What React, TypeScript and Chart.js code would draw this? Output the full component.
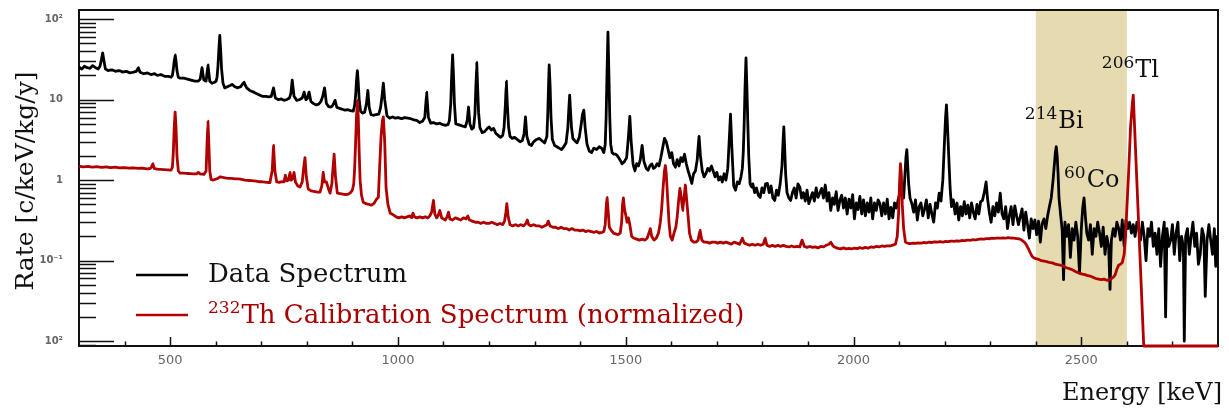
import React, { useEffect, useRef } from 'react';
import { Chart, registerables } from 'chart.js';

Chart.register(...registerables);

// ---- axis ranges & tick labels ----
const X_MIN = 300;
const X_MAX = 2800;
const Y_MIN = 0.0087;
const Y_MAX = 130;
const xTickValues = [500, 1000, 1500, 2000, 2500];
const xTickLabels = ['500', '1000', '1500', '2000', '2500'];
const yTickValues = [100, 10, 1, 0.1, 0.01];
const yTickLabels = ['10²', '10', '1', '10⁻¹', '10²'];
const bandRange = [2400, 2600];

// ---- Data spectrum [keV, c/keV/kg/y] ----
const dataLow = [
  [300,25.5],[306,24],[312,26],[318,25],[324,24.5],[330,26.5],[336,25],[342,24],[346,26],[349,31],[352,38],[355,30],[358,24],
  [364,23],[372,23.5],[380,22.5],[388,23],[396,22],[404,22.5],[412,21.5],[420,22],[426,22.5],[430,25],[434,22],[442,21],
  [450,21.5],[458,20.5],[466,21],[472,20],[480,20.5],[488,19.5],[496,19.5],[502,19],[505,20],[507,24],[509,30],[511,36],
  [513,30],[515,23],[518,19],[522,18.5],[530,18.5],[538,18],[546,17.5],[554,17],[562,17],[566,18],[570,25],[574,17.5],
  [579,17],[583,27],[587,17],[592,16],[598,16.5],[601,17],[603,19],[605,26],[607,42],[609,63],[611,40],[613,24],[616,16],
  [620,14],[626,14.5],[632,15],[636,15.5],[642,14.5],[648,14],[655,14.5],[662,16.5],[668,14],[675,13],[682,12.5],[688,12],
  [695,11.5],
];
const dataMid1 = [
  [702,11],[710,11],[716,10.8],[722,11],[727,14],[731,10.5],[737,10],[744,10.2],[750,9.8],[756,10],[762,10.5],[765,12],
  [768,17.5],[772,11],[778,9.8],[784,10],[790,10.5],[794,12.4],[798,10],[801,10.3],[805,12.4],[809,9.5],[814,9],[820,8.6],
  [826,8.8],[831,9.5],[835,11],[839,14],[843,9],[848,8.2],[853,8.1],[857,8.5],[862,9.8],[866,8],[872,7.8],[878,7.6],
  [884,7.4],[890,7.5],[896,7.3],[902,7.2],[905,8.5],[907,11],[909,17],[911,23],[913,16],[915,10],[918,7.2],[922,6.8],
  [927,7],[931,9],[934,13],[937,8],[941,6.5],[946,6.4],[952,6.5],[958,6.6],[962,8],[965,11],[968,16],[971,10],[976,6.3],
  [982,5.9],[988,6.1],[994,5.9],[1000,6],[1008,5.8],[1015,6],[1022,5.9],[1028,5.8],[1035,5.6],[1042,5.5],[1048,5.2],
  [1054,5.4],[1059,6],[1063,12.4],[1067,6],[1072,5.1],[1078,5.2],[1085,5],[1092,5.1],[1098,4.9],[1104,4.8],[1110,4.9],
  [1113,5.5],[1116,9],[1118,20],[1120,36],[1122,20],[1124,9],[1127,5],[1132,4.9],[1137,4.8],[1142,4.7],[1148,4.6],
  [1152,5.5],[1155,8.1],[1158,5],[1162,4.3],[1166,4.5],[1169,6.5],[1171,14],[1173,29],[1175,14],[1177,7],[1180,4.5],
  [1185,3.9],[1190,4],[1195,4.3],
];
const dataMid2 = [
  [1200,4.6],[1205,4.2],[1210,4.4],[1215,3.8],[1220,3.6],[1225,3.4],[1230,3.6],[1233,4.5],[1236,9],[1238,17],[1240,9],
  [1243,4.5],[1246,3.5],[1251,3.3],[1256,3.4],[1262,3.2],[1268,3.0],[1273,3.1],[1277,3.8],[1280,6.1],[1283,3.5],[1288,2.8],
  [1293,2.7],[1298,3.0],[1304,3.2],[1310,3.3],[1316,3.1],[1322,2.9],[1327,3.5],[1329,7],[1331,18],[1332,27],[1334,15],
  [1336,6],[1339,3.2],[1344,2.7],[1349,2.6],[1354,2.5],[1359,2.4],[1364,2.6],[1369,2.9],[1373,4.5],[1375,7.5],[1377,11.4],
  [1379,7],[1381,4.5],[1384,3.3],[1388,3.1],[1393,2.9],[1398,3.4],[1402,4.8],[1405,6.5],[1408,7.4],[1411,4.5],[1415,2.8],
  [1420,2.3],[1425,2.2],[1430,2.5],[1436,2.4],[1442,2.6],[1447,2.5],[1452,2.2],[1455,2.8],[1457,6],[1459,22],[1461,69],
  [1463,22],[1465,6],[1467,2.8],[1470,2.2],[1474,2.1],[1478,2.1],[1482,2.0],[1487,1.8],[1492,1.6],[1497,1.7],[1502,1.9],
  [1506,3.5],[1509,6.2],[1512,3],[1516,1.6],[1520,1.3],[1524,1.6],[1528,1.5],[1532,1.8],[1536,2.7],[1540,1.7],[1545,1.4],
  [1549,1.33],[1553,1.5],[1557,1.6],[1561,1.4],[1565,1.45],[1569,1.6],[1573,1.5],[1577,1.9],[1581,2.5],[1585,3.3],
  [1589,3.0],[1593,2.4],[1597,1.9],
];
const dataHigh1 = [
  [1601,2.2],[1605,1.6],[1609,1.45],[1613,1.8],[1617,1.5],[1621,1.9],[1625,1.7],[1629,2.1],[1633,1.6],[1637,1.3],
  [1641,1.1],[1645,0.91],[1649,1.2],[1653,1.3],[1657,1.8],[1659,2.6],[1661,3.5],[1664,2],[1668,1.3],[1672,1.1],[1676,1.2],
  [1680,1.4],[1684,1.3],[1688,1.5],[1692,1.3],[1696,1.1],[1700,1.25],[1704,1.0],[1708,1.1],[1712,0.95],[1716,1.2],
  [1720,1.0],[1724,1.4],[1727,3],[1730,6.6],[1733,2.5],[1737,0.85],[1741,0.75],[1745,0.95],[1749,0.9],[1753,1.1],
  [1756,1.4],[1758,2.2],[1760,5],[1762,15],[1764,33],[1766,14],[1768,5],[1770,2],[1773,0.9],[1776,0.82],[1779,0.9],
  [1783,0.7],[1787,0.8],[1791,0.65],[1795,0.61],[1799,0.8],[1803,0.7],[1807,0.9],[1811,0.91],[1815,0.7],[1819,0.85],
  [1823,0.6],[1827,0.56],[1831,0.75],[1835,0.65],[1839,0.9],[1843,1.5],[1845,2.8],[1847,4.6],[1849,2.4],[1851,1.2],
  [1854,0.7],[1858,0.6],[1862,0.56],[1866,0.7],[1870,0.8],[1874,0.6],[1878,0.9],[1882,0.82],[1886,0.6],[1890,0.7],
  [1894,0.55],[1898,0.75],[1902,0.51],[1906,0.6],[1910,0.7],[1914,0.55],[1918,0.8],[1922,0.61],[1926,0.69],[1930,0.79],
  [1934,0.6],[1938,0.87],[1942,0.55],[1946,0.7],[1950,0.42],[1954,0.6],[1958,0.5],[1962,0.72],[1966,0.42],[1970,0.56],
  [1974,0.65],[1978,0.45],[1982,0.6],[1986,0.38],[1990,0.58],[1994,0.45],[1998,0.66],[2002,0.33],[2006,0.52],[2010,0.43],
  [2014,0.63],[2018,0.38],[2022,0.57],[2026,0.36],[2030,0.52],[2034,0.4],[2038,0.6],[2042,0.33],[2046,0.52],[2050,0.42],
  [2054,0.57],[2058,0.51],[2062,0.36],[2066,0.52],[2070,0.38],[2074,0.58],[2078,0.33],[2082,0.46],[2086,0.34],[2090,0.52],
  [2094,0.45],[2098,0.57],
];
const dataHigh2 = [
  [2102,0.71],[2106,0.8],[2110,0.6],[2113,1.2],[2115,1.9],[2117,2.4],[2119,1.5],[2121,0.9],[2124,0.6],[2128,0.51],
  [2132,0.4],[2136,0.57],[2140,0.32],[2144,0.47],[2148,0.52],[2152,0.36],[2156,0.44],[2160,0.57],[2164,0.34],[2168,0.5],
  [2172,0.38],[2176,0.3],[2180,0.52],[2184,0.45],[2188,0.69],[2192,0.55],[2196,1.0],[2199,2.5],[2202,6],[2204,8.6],
  [2206,5],[2209,2],[2212,0.8],[2215,0.47],[2219,0.57],[2223,0.38],[2227,0.52],[2231,0.32],[2235,0.47],[2239,0.36],
  [2243,0.54],[2247,0.38],[2251,0.49],[2255,0.34],[2259,0.52],[2263,0.4],[2267,0.33],[2271,0.5],[2275,0.38],[2279,0.54],
  [2283,0.56],[2287,0.7],[2291,0.95],[2294,0.6],[2298,0.4],[2302,0.3],[2306,0.47],[2310,0.36],[2314,0.52],[2318,0.4],
  [2322,0.69],[2326,0.38],[2330,0.33],[2334,0.47],[2338,0.25],[2342,0.36],[2346,0.47],[2350,0.28],[2354,0.48],[2358,0.36],
  [2362,0.28],[2366,0.35],[2370,0.44],[2374,0.24],[2378,0.4],[2382,0.28],[2386,0.19],[2390,0.33],[2394,0.25],[2398,0.32],
  [2402,0.21],[2406,0.31],[2410,0.17],[2414,0.29],[2418,0.33],[2422,0.25],[2426,0.36],[2430,0.47],[2434,0.6],[2438,1.0],
  [2441,1.6],[2443,2.2],[2445,2.6],[2447,2.0],[2449,1.2],[2451,0.6],
];
const dataTail = [
  [2455,0.35],[2458,0.24],[2461,0.058],[2464,0.3],[2468,0.2],[2472,0.28],[2476,0.11],[2480,0.25],[2484,0.18],[2488,0.3],
  [2492,0.2],[2496,0.07],[2500,0.25],[2503,0.45],[2506,0.6],[2509,0.35],[2512,0.22],[2516,0.18],[2520,0.28],[2524,0.12],
  [2528,0.25],[2532,0.2],[2536,0.3],[2540,0.22],[2544,0.15],[2548,0.26],[2552,0.12],[2556,0.2],[2560,0.15],[2563,0.044],
  [2566,0.18],[2570,0.25],[2574,0.2],[2578,0.3],[2582,0.25],[2586,0.18],[2590,0.32],[2594,0.15],[2598,0.32],[2602,0.25],
  [2606,0.3],[2610,0.22],[2614,0.28],[2618,0.2],[2622,0.3],[2626,0.25],[2630,0.18],[2634,0.3],[2638,0.2],[2642,0.1],
  [2646,0.25],[2650,0.2],[2654,0.3],[2658,0.15],[2662,0.22],[2666,0.12],[2670,0.25],[2674,0.085],[2678,0.2],[2682,0.3],
  [2685,0.02],[2688,0.25],[2692,0.15],[2696,0.18],[2700,0.28],[2704,0.12],[2708,0.22],[2712,0.3],[2716,0.1],[2720,0.2],
  [2724,0.15],[2726,0.01],[2729,0.2],[2733,0.25],[2737,0.12],[2741,0.2],[2745,0.3],[2749,0.15],[2753,0.22],[2757,0.09],
  [2761,0.12],[2765,0.25],[2769,0.2],[2772,0.036],[2776,0.18],[2780,0.28],[2784,0.18],[2788,0.12],[2792,0.25],[2795,0.085],
  [2798,0.2],[2800,0.15],
];

// ---- 232Th calibration spectrum (normalized) ----
const calibLow = [
  [300,1.49],[310,1.46],[320,1.48],[330,1.45],[340,1.47],[350,1.44],[360,1.46],[370,1.43],[380,1.45],[390,1.42],[400,1.43],
  [410,1.41],[420,1.42],[430,1.4],[440,1.41],[450,1.38],[456,1.39],[459,1.45],[462,1.6],[465,1.4],[472,1.37],[480,1.36],
  [488,1.35],[496,1.34],[502,1.33],[505,1.45],[507,2.2],[509,4.5],[511,7.0],[513,4.5],[515,2],[518,1.3],[522,1.22],
  [530,1.22],[540,1.21],[550,1.2],[558,1.2],[562,1.25],[566,1.2],[574,1.18],[579,1.3],[581,2.8],[583,5.4],[585,2.8],
  [587,1.3],[590,1.02],[594,1.0],[598,1.02],[604,1.05],[610,1.1],[616,1.08],[624,1.06],[634,1.05],[644,1.04],[654,1.03],
  [664,1.0],[674,0.99],[684,0.98],[694,0.96],[704,0.95],[712,0.94],[719,0.93],
];
const calibMid1 = [
  [724,1.3],[727,2.7],[730,1.3],[734,0.95],[740,0.94],[746,0.96],[750,0.95],[753,1.15],[756,0.98],[760,1.0],[763,1.25],
  [766,1.0],[769,1.05],[772,1.25],[775,0.95],[780,0.85],[785,0.82],[790,0.95],[793,1.4],[796,1.9],[799,1.1],[803,0.78],
  [807,0.75],[812,0.73],[818,0.72],[824,0.71],[829,0.71],[833,0.85],[836,1.25],[839,0.95],[843,0.95],[847,0.8],[851,0.69],
  [855,0.9],[857,1.3],[860,2.1],[863,1.1],[867,0.69],[873,0.68],[879,0.67],[885,0.66],[891,0.67],[896,0.7],[900,0.75],
  [903,0.9],[905,1.4],[907,2.8],[909,6],[911,9.8],[913,6],[915,2.2],[917,1],[920,0.65],[924,0.53],[930,0.51],[936,0.5],
  [942,0.49],[948,0.52],[953,0.58],[957,0.61],[960,1.5],[963,3.5],[966,5.5],[968,6.1],[971,3],[974,0.8],[978,0.5],
  [983,0.39],[990,0.37],[996,0.35],[1002,0.34],[1008,0.35],[1014,0.34],[1020,0.35],[1026,0.36],[1030,0.34],[1033,0.39],
  [1036,0.35],[1042,0.34],[1048,0.35],[1054,0.34],[1060,0.35],[1066,0.34],[1070,0.36],[1074,0.4],[1078,0.56],[1081,0.38],
  [1085,0.34],[1088,0.36],[1092,0.42],[1096,0.34],[1100,0.33],[1104,0.32],[1108,0.35],[1111,0.4],[1114,0.33],[1120,0.32],
  [1126,0.34],[1132,0.33],[1138,0.32],[1144,0.34],[1150,0.33],[1153,0.36],[1157,0.32],[1163,0.31],[1170,0.3],[1176,0.3],
  [1182,0.29],[1188,0.3],[1194,0.29],
];
const calibMid2 = [
  [1200,0.29],[1206,0.3],[1212,0.29],[1218,0.28],[1224,0.29],[1230,0.28],[1234,0.31],[1237,0.4],[1239,0.51],[1242,0.35],
  [1246,0.28],[1252,0.27],[1258,0.28],[1264,0.27],[1270,0.28],[1276,0.27],[1281,0.29],[1284,0.32],[1287,0.28],[1292,0.27],
  [1298,0.28],[1304,0.27],[1310,0.27],[1316,0.26],[1322,0.27],[1327,0.28],[1330,0.31],[1334,0.27],[1340,0.26],[1346,0.26],
  [1352,0.25],[1358,0.26],[1364,0.25],[1370,0.25],[1376,0.24],[1382,0.25],[1388,0.24],[1394,0.24],[1400,0.235],[1406,0.24],
  [1412,0.23],[1418,0.235],[1424,0.23],[1430,0.225],[1436,0.23],[1442,0.22],[1448,0.225],[1452,0.23],[1455,0.28],
  [1457,0.45],[1459,0.61],[1461,0.45],[1464,0.26],[1468,0.24],[1473,0.22],[1478,0.215],[1483,0.21],[1488,0.22],[1491,0.3],
  [1493,0.5],[1495,0.6],[1497,0.45],[1500,0.37],[1503,0.3],[1506,0.34],[1509,0.28],[1513,0.2],[1518,0.19],[1524,0.185],
  [1530,0.18],[1536,0.185],[1542,0.18],[1547,0.19],[1551,0.22],[1554,0.25],[1557,0.2],[1562,0.18],[1567,0.19],[1572,0.22],
  [1576,0.3],[1579,0.45],[1582,0.8],[1585,1.3],[1587,1.52],[1589,1.2],[1592,0.6],[1595,0.3],[1598,0.2],
];
const calibHigh1 = [
  [1602,0.18],[1606,0.22],[1610,0.26],[1613,0.35],[1616,0.55],[1619,0.79],[1622,0.6],[1625,0.42],[1628,0.6],[1631,0.87],
  [1634,0.55],[1637,0.35],[1640,0.22],[1644,0.18],[1649,0.17],[1654,0.17],[1659,0.18],[1663,0.24],[1667,0.18],[1672,0.17],
  [1678,0.17],[1684,0.165],[1690,0.17],[1696,0.17],[1702,0.165],[1708,0.17],[1714,0.165],[1720,0.17],[1726,0.165],
  [1732,0.16],[1738,0.17],[1744,0.165],[1750,0.16],[1756,0.19],[1760,0.165],[1766,0.16],[1772,0.155],[1778,0.16],
  [1784,0.155],[1790,0.16],[1796,0.155],[1802,0.16],[1806,0.19],[1810,0.155],[1816,0.15],[1822,0.155],[1828,0.15],
  [1834,0.155],[1840,0.15],[1846,0.155],[1852,0.15],[1858,0.148],[1864,0.152],[1870,0.148],[1876,0.15],[1882,0.148],
  [1887,0.18],[1892,0.15],[1898,0.146],[1904,0.15],[1910,0.146],[1916,0.148],[1922,0.144],[1928,0.15],[1934,0.148],
  [1940,0.155],[1946,0.16],[1950,0.17],[1955,0.152],[1960,0.146],[1966,0.142],[1972,0.14],[1978,0.144],[1984,0.14],
  [1990,0.142],[1996,0.14],[2002,0.143],[2008,0.141],[2014,0.145],[2020,0.142],[2026,0.146],[2032,0.143],[2038,0.148],
  [2044,0.146],[2050,0.15],[2056,0.148],[2062,0.152],[2068,0.15],[2074,0.153],[2080,0.152],[2086,0.156],[2092,0.16],
  [2096,0.2],[2099,0.4],
];
const calibHigh2 = [
  [2101,0.9],[2103,1.6],[2105,1.2],[2107,0.5],[2110,0.25],[2114,0.17],[2118,0.165],[2124,0.163],[2130,0.165],[2136,0.164],
  [2142,0.166],[2148,0.165],[2154,0.168],[2160,0.166],[2166,0.17],[2172,0.168],[2178,0.171],[2184,0.17],[2190,0.172],
  [2196,0.17],[2202,0.173],[2208,0.172],[2214,0.175],[2220,0.174],[2226,0.176],[2232,0.175],[2238,0.178],[2244,0.177],
  [2250,0.18],[2256,0.179],[2262,0.182],[2268,0.181],[2274,0.184],[2280,0.186],[2286,0.185],[2292,0.188],[2298,0.187],
  [2304,0.19],[2310,0.189],[2316,0.191],[2322,0.19],[2328,0.192],[2334,0.19],[2340,0.193],[2346,0.191],[2352,0.19],
  [2358,0.188],[2364,0.186],[2368,0.182],[2372,0.175],[2376,0.168],[2380,0.155],[2384,0.14],[2388,0.125],[2392,0.113],
  [2396,0.108],
];
const calibTail = [
  [2400,0.106],[2406,0.104],[2412,0.1],[2418,0.099],[2424,0.097],[2430,0.095],[2436,0.094],[2442,0.091],[2448,0.089],
  [2454,0.088],[2460,0.086],[2466,0.082],[2472,0.08],[2478,0.078],[2484,0.075],[2490,0.072],[2496,0.07],[2502,0.068],
  [2508,0.067],[2514,0.065],[2520,0.064],[2526,0.062],[2532,0.06],[2538,0.059],[2544,0.058],[2550,0.059],[2556,0.057],
  [2562,0.058],[2566,0.06],[2570,0.062],[2574,0.066],[2578,0.078],[2582,0.088],[2586,0.09],[2590,0.095],[2594,0.12],
  [2597,0.2],[2600,0.45],[2604,1.3],[2608,4.5],[2612,9],[2614,11.4],[2637,Y_MIN],[2800,Y_MIN],
];

// ---- labels ----
const legendLabels = ['Data Spectrum', 'Th Calibration Spectrum (normalized)'];
const legendIsotopes = ['', '232'];
const peakIsotopes = ['206', '214', '60'];
const peakElements = ['Tl', 'Bi', 'Co'];
const peakLabelEnergy = [2545, 2376, 2462];
const peakLabelRate = [19.2, 4.46, 0.826];

const BLACK = '#000000';
const RED = '#b00000';
const BAND = 'rgb(230,218,177)';
const SERIF = '"DejaVu Serif", serif';

const toXY = (arr: number[][]) => arr.map(([x, y]) => ({ x, y }));

function drawIsotope(ctx: CanvasRenderingContext2D, x: number, base: number, iso: string, text: string, size: number, supSize: number, raise: number) {
  let cx = x;
  if (iso) {
    ctx.font = `${supSize}px ${SERIF}`;
    ctx.fillText(iso, cx, base - raise);
    cx += ctx.measureText(iso).width + 1;
  }
  ctx.font = `${size}px ${SERIF}`;
  ctx.fillText(text, cx, base);
}

const overlayPlugin = {
  id: 'overlay',
  beforeDatasetsDraw(chart: any) {
    const { ctx, chartArea: a, scales } = chart;
    const xs = scales.x;
    const ys = scales.y;
    ctx.save();
    // shaded ROI band
    const bx0 = xs.getPixelForValue(bandRange[0]);
    const bx1 = xs.getPixelForValue(bandRange[1]);
    ctx.fillStyle = BAND;
    ctx.fillRect(bx0, a.top, bx1 - bx0, a.bottom - a.top);
    // frame
    ctx.strokeStyle = '#111';
    ctx.lineWidth = 2;
    ctx.strokeRect(a.left, a.top, a.right - a.left, a.bottom - a.top);
    // y ticks (inside)
    ctx.lineWidth = 1.5;
    ctx.beginPath();
    for (let e = -3; e <= 2; e++) {
      for (let m = 1; m <= 9; m++) {
        const v = m * Math.pow(10, e);
        if (v < Y_MIN || v > Y_MAX) continue;
        const py = Math.round(ys.getPixelForValue(v)) + 0.5;
        const len = m === 1 ? 35 : 17;
        ctx.moveTo(a.left, py);
        ctx.lineTo(a.left + len, py);
      }
    }
    // x ticks (inside)
    for (let v = X_MIN + 100; v < X_MAX; v += 100) {
      const px = Math.round(xs.getPixelForValue(v)) + 0.5;
      const len = v % 500 === 0 ? 9 : 4.5;
      ctx.moveTo(px, a.bottom);
      ctx.lineTo(px, a.bottom - len);
    }
    ctx.stroke();
    ctx.restore();
  },
  afterDatasetsDraw(chart: any) {
    const { ctx, chartArea: a, scales } = chart;
    const xs = scales.x;
    const ys = scales.y;
    ctx.save();
    ctx.textAlign = 'left';
    ctx.textBaseline = 'alphabetic';
    // legend
    const colors = [BLACK, RED];
    const rows = [275, 315];
    const bases = [282, 323];
    for (let i = 0; i < legendLabels.length; i++) {
      ctx.strokeStyle = colors[i];
      ctx.lineWidth = 2.6;
      ctx.beginPath();
      ctx.moveTo(a.left + 57, rows[i]);
      ctx.lineTo(a.left + 109, rows[i]);
      ctx.stroke();
      ctx.fillStyle = colors[i] === BLACK ? '#111' : '#a80000';
      drawIsotope(ctx, a.left + 129, bases[i], legendIsotopes[i], legendLabels[i], 26, 17, 10);
    }
    // peak annotations
    ctx.fillStyle = '#111';
    for (let i = 0; i < peakElements.length; i++) {
      const px = xs.getPixelForValue(peakLabelEnergy[i]);
      const py = ys.getPixelForValue(peakLabelRate[i]);
      drawIsotope(ctx, px, py, peakIsotopes[i], peakElements[i], 24, 17, 9);
    }
    // axis titles
    ctx.font = `24px ${SERIF}`;
    ctx.textAlign = 'right';
    ctx.fillText('Energy [keV]', a.right + 4, 400);
    ctx.translate(33, (a.top + a.bottom) / 2 + 3);
    ctx.rotate(-Math.PI / 2);
    ctx.textAlign = 'center';
    ctx.font = `25px ${SERIF}`;
    ctx.fillText('Rate [c/keV/kg/y]', 0, 0);
    ctx.restore();
  },
};

export default function App() {
  const ref = useRef<HTMLCanvasElement>(null);
  useEffect(() => {
    document.body.style.margin = '0';
    const canvas = ref.current;
    if (!canvas) return;
    const chart = new Chart(canvas, {
      type: 'line',
      data: {
        datasets: [
          {
            label: legendLabels[0],
            data: toXY([...dataLow, ...dataMid1, ...dataMid2, ...dataHigh1, ...dataHigh2, ...dataTail]),
            borderColor: BLACK,
            borderWidth: 2.8,
            pointRadius: 0,
            tension: 0.0001,
            borderJoinStyle: 'round',
            order: 1,
          },
          {
            label: legendLabels[1],
            data: toXY([...calibLow, ...calibMid1, ...calibMid2, ...calibHigh1, ...calibHigh2, ...calibTail]),
            borderColor: RED,
            borderWidth: 2.8,
            pointRadius: 0,
            tension: 0.0001,
            borderJoinStyle: 'round',
            clip: false,
            order: 0,
          },
        ],
      },
      options: {
        animation: false,
        responsive: false,
        events: [],
        layout: { padding: { top: 10, right: 11, left: 0, bottom: 0 } },
        plugins: { legend: { display: false }, tooltip: { enabled: false } },
        scales: {
          x: {
            type: 'linear',
            min: X_MIN,
            max: X_MAX,
            border: { display: false },
            grid: { display: false, drawTicks: false },
            afterBuildTicks: (s: any) => { s.ticks = xTickValues.map((v) => ({ value: v })); },
            afterFit: (s: any) => { s.height = 64; s.paddingLeft = 0; s.paddingRight = 0; },
            ticks: {
              autoSkip: false,
              maxRotation: 0,
              padding: 7,
              color: '#666',
              font: { family: '"DejaVu Sans", sans-serif', size: 13 },
              callback: (v: any) => { const i = xTickValues.indexOf(Number(v)); return i >= 0 ? xTickLabels[i] : ''; },
            },
          },
          y: {
            type: 'logarithmic',
            min: Y_MIN,
            max: Y_MAX,
            border: { display: false },
            grid: { display: false, drawTicks: false },
            afterBuildTicks: (s: any) => { s.ticks = yTickValues.map((v) => ({ value: v })); },
            afterFit: (s: any) => { s.width = 79; s.paddingTop = 0; s.paddingBottom = 0; },
            ticks: {
              autoSkip: false,
              padding: 16,
              color: '#666',
              font: { family: '"DejaVu Sans", sans-serif', size: 10, weight: 'bold' },
              callback: (v: any) => {
                const i = yTickValues.findIndex((t) => Math.abs(t - Number(v)) / t < 1e-6);
                return i >= 0 ? yTickLabels[i] : '';
              },
            },
          },
        },
      },
      plugins: [overlayPlugin],
    } as any);
    return () => chart.destroy();
  }, []);
  return (
    <div style={{ width: 1229, height: 410 }}>
      <canvas ref={ref} width={1229} height={410} style={{ display: 'block' }} />
    </div>
  );
}
